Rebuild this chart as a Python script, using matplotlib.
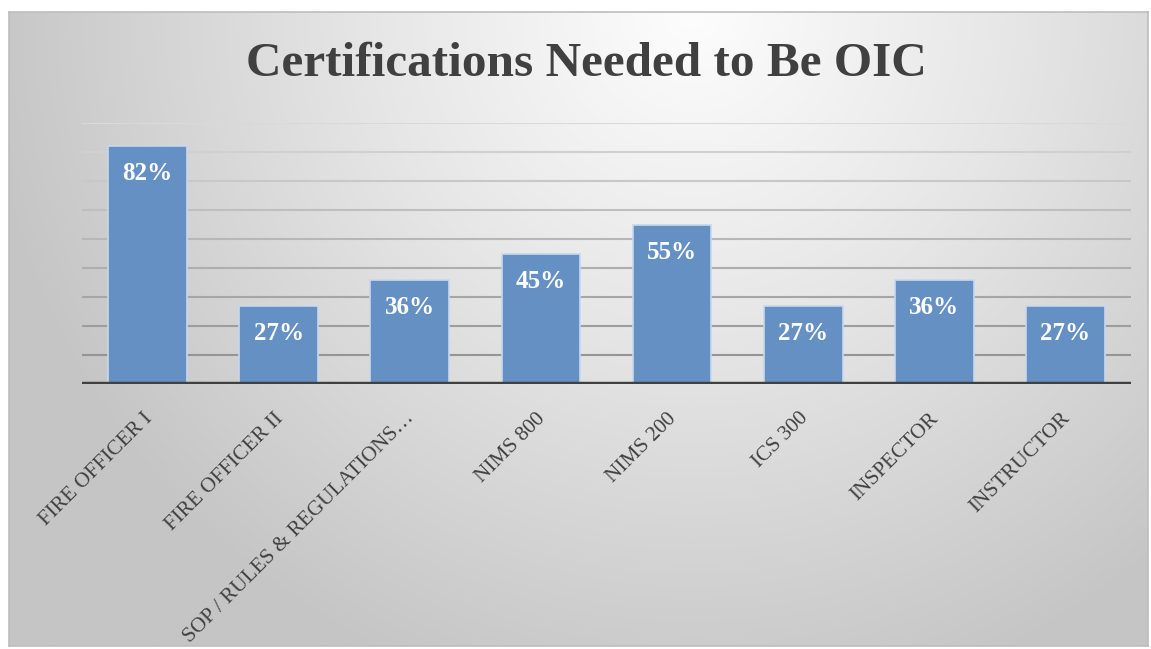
import numpy as np
import matplotlib
matplotlib.use("Agg")
import matplotlib.pyplot as plt
import matplotlib.transforms as mtransforms
from matplotlib.colors import LinearSegmentedColormap

# chart data
categories = ["FIRE OFFICER I", "FIRE OFFICER II", "SOP / RULES & REGULATIONS…",
              "NIMS 800", "NIMS 200", "ICS 300", "INSPECTOR", "INSTRUCTOR"]
values = [0.82, 0.27, 0.36, 0.45, 0.55, 0.27, 0.36, 0.27]
value_labels = ["82%", "27%", "36%", "45%", "55%", "27%", "36%", "27%"]
title = "Certifications Needed to Be OIC"

W, H = 1151, 649
fig = plt.figure(figsize=(W / 100, H / 100), dpi=100)
fig.patch.set_facecolor("white")

# chart frame with a soft radial gradient (computed in pixel units)
fx0, fy0, fx1, fy1 = 9, 12, 1148, 646
fw, fh = fx1 - fx0, fy1 - fy0
bg = fig.add_axes([fx0 / W, 1 - fy1 / H, fw / W, fh / H], zorder=0)
gx, gy = np.meshgrid(np.linspace(0, fw, 460), np.linspace(0, fh, 260))
cx, cy = 0.6 * fw, 0.0
r = np.sqrt((gx - cx) ** 2 + (gy - cy) ** 2)
r = np.clip(r / 720.0, 0, 1)
cmap = LinearSegmentedColormap.from_list("bg", [(0, "#fdfdfd"), (0.45, "#e6e6e6"), (1, "#c5c5c5")])
bg.imshow(r, cmap=cmap, vmin=0, vmax=1, aspect="auto", extent=[0, 1, 1, 0],
          interpolation="bilinear")
bg.set_xlim(0, 1)
bg.set_ylim(1, 0)
bg.set_xticks([])
bg.set_yticks([])
for s in bg.spines.values():
    s.set_color("#bdbdbd")
    s.set_linewidth(1.2)

# plot area
px0, py0, px1, py1 = 82, 123, 1131, 384
ax = fig.add_axes([px0 / W, 1 - py1 / H, (px1 - px0) / W, (py1 - py0) / H], zorder=1)
ax.patch.set_alpha(0)
x = np.arange(len(categories))
ax.set_xlim(-0.5, len(categories) - 0.5)
ax.set_ylim(0, 0.9)

# horizontal gridlines, darker towards the baseline
grid_vals = np.arange(0.1, 0.91, 0.1)
for g in grid_vals:
    t = g / 0.9
    shade = 0.55 + 0.3 * t
    ax.axhline(g, color=(shade, shade, shade), lw=1.5, zorder=1)

ax.bar(x, values, width=0.6, color="#6590c4", edgecolor="#c9d8ec", linewidth=1.2, zorder=2)
ax.axhline(0, color="#404040", lw=3.2, zorder=3)

for xi, v, lab in zip(x, values, value_labels):
    ax.annotate(lab, (xi, v), xytext=(0, -20), textcoords="offset points",
                ha="center", va="center", color="white", fontsize=18,
                fontweight="bold", family=["Liberation Serif"], zorder=4)

ax.set_xticks(x)
ax.set_xticklabels(categories, rotation=45, ha="right", rotation_mode="anchor",
                   fontsize=15.3, color="#404040", family=["Liberation Serif"])
ax.tick_params(axis="x", length=0, pad=18)
# nudge the rotated labels slightly left
shift = mtransforms.ScaledTranslation(-5 / 100, 0, fig.dpi_scale_trans)
for lbl in ax.get_xticklabels():
    lbl.set_transform(lbl.get_transform() + shift)
ax.set_yticks([])
for s in ax.spines.values():
    s.set_visible(False)

fig.text(586 / W, 1 - 64 / H, title, ha="center", va="center", fontsize=35.5,
         fontweight="bold", color="#404040", family=["Liberation Serif"])

fig.savefig("out.png", dpi=100, facecolor="white")
